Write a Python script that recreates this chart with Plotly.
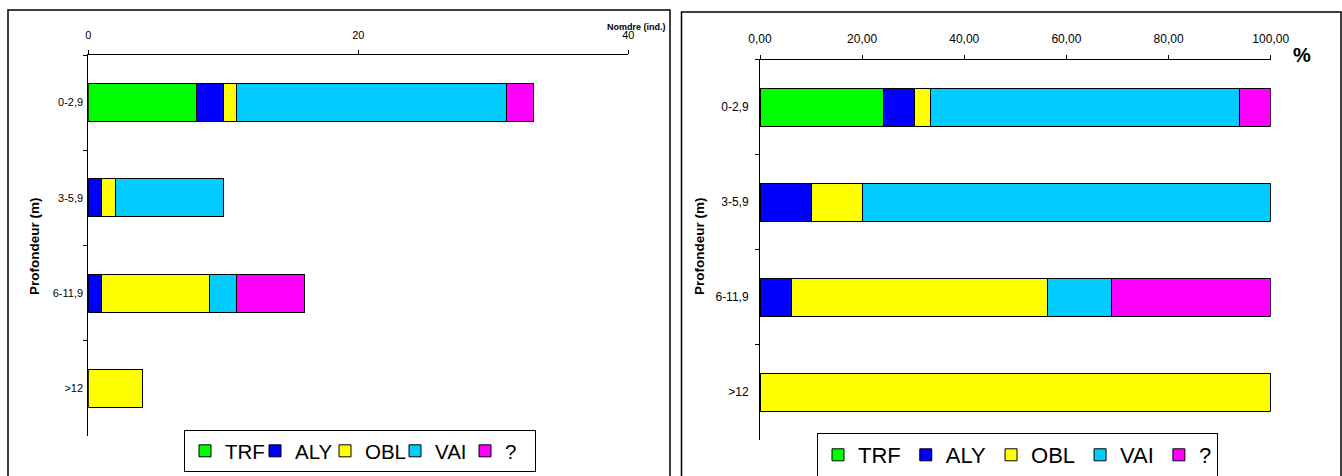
import plotly.graph_objects as go

# ---------------- data ----------------
depths = ["0-2,9", "3-5,9", "6-11,9", ">12"]
series_names = ["TRF", "ALY", "OBL", "VAI", "?"]
series_colors = ["#00FF00", "#0000FF", "#FFFF00", "#00CCFF", "#FF00FF"]

# counts (Nomdre (ind.)) per depth class
trf_n = [8, 0, 0, 0]
aly_n = [2, 1, 1, 0]
obl_n = [1, 1, 8, 4]
vai_n = [20, 8, 2, 0]
unk_n = [2, 0, 5, 0]

# percentages per depth class
trf_p = [24.2, 0.0, 0.0, 0.0]
aly_p = [6.1, 10.0, 6.25, 0.0]
obl_p = [3.0, 10.0, 50.0, 100.0]
vai_p = [60.6, 80.0, 12.5, 0.0]
unk_p = [6.1, 0.0, 31.25, 0.0]

left_ticks = [0, 20, 40]
right_ticks = [0, 20, 40, 60, 80, 100]

W, H = 1342, 476
FONT = "Arial, Liberation Sans, sans-serif"


def px(x):
    return x / W


def py(y):
    return 1 - y / H


fig = go.Figure()
counts = [trf_n, aly_n, obl_n, vai_n, unk_n]
pcts = [trf_p, aly_p, obl_p, vai_p, unk_p]
for name, col, vals in zip(series_names, series_colors, counts):
    fig.add_trace(go.Bar(
        y=depths, x=vals, name=name, orientation="h",
        marker=dict(color=col, line=dict(color="black", width=1)),
        xaxis="x", yaxis="y", legend="legend", hoverinfo="x+name"))
for name, col, vals in zip(series_names, series_colors, pcts):
    fig.add_trace(go.Bar(
        y=depths, x=vals, name=name, orientation="h",
        marker=dict(color=col, line=dict(color="black", width=1)),
        xaxis="x2", yaxis="y2", legend="legend2", hoverinfo="x+name"))

axis_common = dict(showline=True, linecolor="black", linewidth=1,
                   ticks="outside", ticklen=4, tickcolor="black",
                   showgrid=False, zeroline=False, fixedrange=True,
                   automargin=False)

fig.update_layout(
    width=W, height=H, autosize=False,
    margin=dict(l=0, r=0, t=0, b=0, pad=0, autoexpand=False),
    paper_bgcolor="white", plot_bgcolor="white",
    barmode="stack", bargap=0.6,
    separators=", ",
    font=dict(family=FONT, color="black"),
    xaxis=dict(domain=[px(88.3), px(628.3)], range=[0, 40], side="top",
               anchor="y", tickvals=left_ticks, tickfont=dict(size=11),
               ticklabelstandoff=7, **axis_common),
    yaxis=dict(domain=[py(436), py(55)], type="category",
               categoryorder="array", categoryarray=depths,
               range=[3.5, -0.5], anchor="x", tickson="boundaries",
               tickfont=dict(size=11), ticklabelstandoff=2, **axis_common),
    xaxis2=dict(domain=[px(760), px(1270.7)], range=[0, 100], side="top",
                anchor="y2", tickvals=right_ticks, tickformat=".2f",
                tickfont=dict(size=12), ticklabelstandoff=7, **axis_common),
    yaxis2=dict(domain=[py(439.7), py(59.5)], type="category",
                categoryorder="array", categoryarray=depths,
                range=[3.5, -0.5], anchor="x2", tickson="boundaries",
                tickfont=dict(size=12), ticklabelstandoff=8, **axis_common),
    legend=dict(orientation="h", x=px(360), y=py(451), xanchor="center",
                yanchor="middle", bordercolor="black", borderwidth=1,
                font=dict(size=20.5, family=FONT), entrywidth=25,
                entrywidthmode="pixels", bgcolor="white", traceorder="normal"),
    legend2=dict(orientation="h", x=px(1017.5), y=py(455), xanchor="center",
                 yanchor="middle", bordercolor="black", borderwidth=1,
                 font=dict(size=22, family=FONT), bgcolor="white",
                 traceorder="normal"),
    showlegend=True,
)

shapes = [
    dict(type="rect", xref="paper", yref="paper", x0=px(8), x1=px(670),
         y0=-0.05, y1=py(10), line=dict(color="black", width=1.5),
         layer="below"),
    dict(type="rect", xref="paper", yref="paper", x0=px(681.5), x1=px(1341),
         y0=-0.05, y1=py(12), line=dict(color="black", width=1.5),
         layer="below"),
]
fig.update_layout(shapes=shapes)

annotations = [
    dict(text="<b>Nomdre (ind.)</b>", x=px(668), y=py(27), xref="paper",
         yref="paper", xanchor="right", yanchor="middle", showarrow=False,
         font=dict(size=9, family=FONT)),
    dict(text="<b>%</b>", x=px(1302), y=py(55), xref="paper", yref="paper",
         xanchor="center", yanchor="middle", showarrow=False,
         font=dict(size=20, family=FONT)),
    dict(text="<b>Profondeur (m)</b>", x=px(34), y=py(246), xref="paper",
         yref="paper", xanchor="center", yanchor="middle", showarrow=False,
         textangle=-90, font=dict(size=13.5, family=FONT)),
    dict(text="<b>Profondeur (m)</b>", x=px(699), y=py(246), xref="paper",
         yref="paper", xanchor="center", yanchor="middle", showarrow=False,
         textangle=-90, font=dict(size=13.5, family=FONT)),
]
fig.update_layout(annotations=annotations)

fig.write_html(
    "out.html",
    config={"displayModeBar": False},
    post_script=("document.body.style.margin='0';"
                 "document.body.style.overflow='hidden';"
                 "document.documentElement.style.overflow='hidden';"),
)
